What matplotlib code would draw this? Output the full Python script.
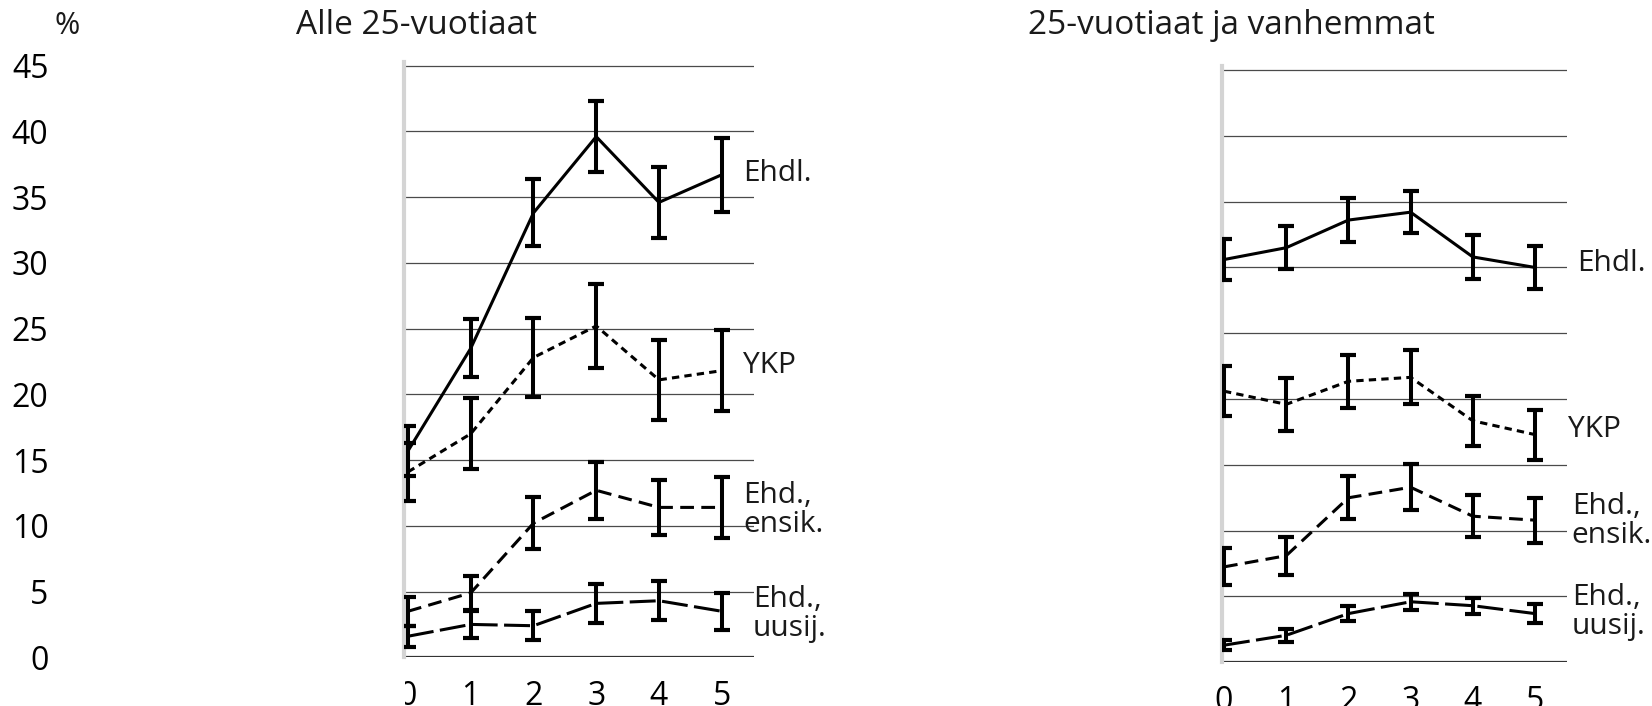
import matplotlib
matplotlib.use('Agg')
import matplotlib.pyplot as plt
from matplotlib.patches import Rectangle

plt.rcParams['font.family'] = ['Open Sans', 'DejaVu Sans']
plt.rcParams['font.size'] = 23
plt.rcParams['text.color'] = '#1a1a1a'

W, H = 1652, 706

years = [0, 1, 2, 3, 4, 5]
y_ticks = [0, 5, 10, 15, 20, 25, 30, 35, 40, 45]

# Alle 25-vuotiaat
young_ehdl = [15.7, 23.5, 33.8, 39.6, 34.6, 36.7]
young_ehdl_err = [1.9, 2.2, 2.55, 2.7, 2.7, 2.8]
young_ykp = [14.1, 17.0, 22.8, 25.2, 21.1, 21.8]
young_ykp_err = [2.2, 2.7, 3.0, 3.2, 3.05, 3.1]
young_ensik = [3.5, 4.9, 10.2, 12.7, 11.4, 11.4]
young_ensik_err = [1.1, 1.3, 2.0, 2.15, 2.1, 2.3]
young_uusij = [1.6, 2.5, 2.4, 4.1, 4.3, 3.5]
young_uusij_err = [0.8, 1.05, 1.1, 1.5, 1.5, 1.4]

# 25-vuotiaat ja vanhemmat
old_ehdl = [30.6, 31.5, 33.6, 34.2, 30.8, 30.0]
old_ehdl_err = [1.55, 1.65, 1.7, 1.6, 1.65, 1.65]
old_ykp = [20.6, 19.6, 21.35, 21.65, 18.35, 17.3]
old_ykp_err = [1.9, 2.0, 2.0, 2.05, 1.9, 1.9]
old_ensik = [7.25, 8.1, 12.5, 13.3, 11.1, 10.8]
old_ensik_err = [1.4, 1.45, 1.65, 1.75, 1.6, 1.7]
old_uusij = [1.3, 2.05, 3.7, 4.6, 4.3, 3.7]
old_uusij_err = [0.37, 0.5, 0.55, 0.6, 0.6, 0.7]

styles = {
    'ehdl': None,
    'ykp': (2.4, 1.7),
    'ensik': (4.5, 2.4),
    'uusij': (8.5, 2.1),
}


def draw_panel(ax, series, labels, xlim):
    for (key, vals, errs) in series:
        ls = dict(dashes=styles[key]) if styles[key] else dict(linestyle='-')
        ax.plot(years, vals, color='black', lw=2.2, zorder=3, **ls)
        ax.errorbar(years, vals, yerr=errs, fmt='none', ecolor='black',
                    elinewidth=2.9, capsize=5.8, capthick=3.0, zorder=4)
    for y in y_ticks[1:]:
        ax.axhline(y, color='#4a4a4a', lw=0.9, zorder=1)
    ax.axhline(0, color='#333333', lw=1.6, zorder=1)
    for (txt, x, y) in labels:
        ax.text(x, y, txt, ha='left', va='center', linespacing=1.0, fontsize=21.5)
    ax.set_xlim(*xlim)
    ax.set_ylim(0, 45.3)
    for s in ['top', 'right', 'bottom']:
        ax.spines[s].set_visible(False)
    ax.spines['left'].set_color('#d4d4d4')
    ax.spines['left'].set_linewidth(3)
    ax.set_xticks(years)
    ax.tick_params(axis='x', length=0, pad=16)


fig = plt.figure(figsize=(W / 100, H / 100), dpi=100)

ax1 = fig.add_axes([404 / W, 0.069, 350 / W, 0.8436])
draw_panel(ax1,
           [('ehdl', young_ehdl, young_ehdl_err),
            ('ykp', young_ykp, young_ykp_err),
            ('ensik', young_ensik, young_ensik_err),
            ('uusij', young_uusij, young_uusij_err)],
           [('Ehdl.', 5.34, 36.8), ('YKP', 5.34, 22.2),
            ('Ehd.,\nensik.', 5.34, 11.2), ('Ehd.,\nuusij.', 5.50, 3.3)],
           (-0.064, 5.515))
ax1.set_yticks(y_ticks)
ax1.tick_params(axis='y', length=0, pad=256)

ax2 = fig.add_axes([1221.7 / W, 0.0619, 345 / W, 0.8445])
draw_panel(ax2,
           [('ehdl', old_ehdl, old_ehdl_err),
            ('ykp', old_ykp, old_ykp_err),
            ('ensik', old_ensik, old_ensik_err),
            ('uusij', old_uusij, old_uusij_err)],
           [('Ehdl.', 5.67, 30.3), ('YKP', 5.53, 17.65),
            ('Ehd.,\nensik.', 5.59, 10.7), ('Ehd.,\nuusij.', 5.59, 3.8)],
           (-0.037, 5.51))
ax2.set_yticks([])

# the first x label of the left panel is half hidden in the original
fig.add_artist(Rectangle((385 / W, 0), 20 / W, 36 / H, transform=fig.transFigure,
                         facecolor='white', edgecolor='none', zorder=10))

fig.text(67.5 / W, 1 - 26 / H, '%', ha='center', va='center', fontsize=22)
fig.text(296 / W, 1 - 26 / H, 'Alle 25-vuotiaat', ha='left', va='center', fontsize=24)
fig.text(1028 / W, 1 - 26 / H, '25-vuotiaat ja vanhemmat', ha='left', va='center', fontsize=24)

fig.savefig('out.png', dpi=100, facecolor='white')
